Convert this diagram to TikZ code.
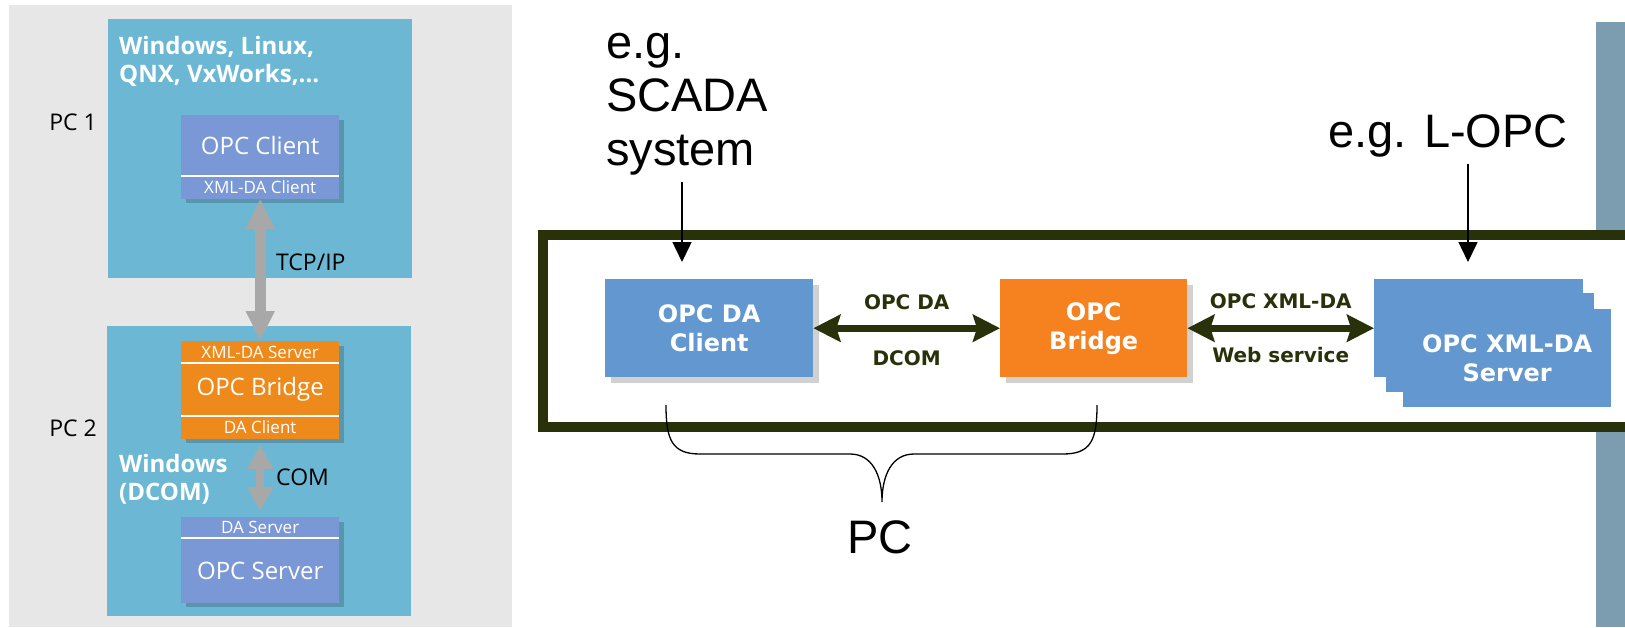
\documentclass[tikz,border=0pt]{standalone}
\usepackage{fontspec}
\setmainfont{Liberation Sans}
\newfontfamily\osans{Open Sans}
\newfontfamily\verd{DejaVu Sans}
\usetikzlibrary{arrows.meta}
\definecolor{panelgray}{HTML}{E7E7E7}
\definecolor{pcblue}{HTML}{6CB8D4}
\definecolor{lav}{HTML}{7B98D6}
\definecolor{lorange}{HTML}{EE8A1C}
\definecolor{grayarrow}{HTML}{A8A8A8}
\definecolor{boxblue}{HTML}{6298CF}
\definecolor{borange}{HTML}{F5821F}
\definecolor{olive}{HTML}{283109}
\definecolor{sidebar}{HTML}{7B9DAF}

\begin{document}
\begin{tikzpicture}[x=1pt,y=-1pt,
    pc box/.style={fill=pcblue,anchor=north west,minimum width=304pt,inner sep=0},
    layer/.style={anchor=north west,minimum width=158pt,inner sep=0,text=white,
                  font=\osans\fontsize{17pt}{17pt}\selectfont},
    big layer/.style={layer,font=\osans\fontsize{24pt}{24pt}\selectfont},
    divider/.style={white,line width=2pt},
    shadowbox/.style={fill=black,opacity=0.18},
    gray link/.style={draw=grayarrow,line width=11pt,<->,>={Triangle[length=30pt,width=27pt]}},
    com link/.style={draw=grayarrow,line width=8pt,<->,>={Triangle[length=24pt,width=25pt]}},
    side label/.style={font=\osans\fontsize{23pt}{23pt}\selectfont,inner sep=0},
    os label/.style={font=\osans\bfseries\fontsize{24pt}{28pt}\selectfont,text=white,
                     align=left,anchor=north west,inner sep=0},
    main box/.style={text=white,align=center,inner sep=0,anchor=north west,
                     font=\verd\bfseries\fontsize{24pt}{29pt}\selectfont},
    link/.style={draw=olive,line width=7pt,<->,>={Stealth[length=27pt,width=27pt,inset=4pt]}},
    link label/.style={font=\verd\bfseries\fontsize{20pt}{20pt}\selectfont,text=olive,inner sep=0},
    note/.style={font=\fontsize{47pt}{53.5pt}\selectfont,inner sep=0},
    pointer/.style={line width=1.5pt,-{Triangle[length=20pt,width=19pt]}}]

  \useasboundingbox (0,0) rectangle (1625,627);

  % left picture: two PCs
  \fill[panelgray] (9,5) rectangle (512,627);
  \node[pc box,minimum height=259pt] (pc1) at (108,19) {};
  \node[pc box,minimum height=290pt] (pc2) at (107,326) {};
  \node[os label] (os1) at (119,36) {Windows, Linux,\\QNX, VxWorks,...};
  \node[os label] (os2) at (119,454) {Windows\\(DCOM)};
  \node[side label] (pc1lbl) at (73,122) {PC 1};
  \node[side label] (pc2lbl) at (73,428) {PC 2};

  % OPC client
  \fill[shadowbox] (186,120) rectangle (344,203);
  \node[big layer,fill=lav,minimum height=61pt] (cli) at (181,115) {OPC Client};
  \node[layer,fill=lav,minimum height=22pt] (clixml) at (cli.south west) {XML-DA Client};
  \draw[divider] (cli.south west) -- (cli.south east);

  % OPC bridge
  \fill[shadowbox] (186,346) rectangle (344,443);
  \node[layer,fill=lorange,minimum height=22pt] (brxml) at (181,341) {XML-DA Server};
  \node[big layer,fill=lorange,minimum height=52pt] (br) at (brxml.south west) {OPC Bridge};
  \node[layer,fill=lorange,minimum height=23pt] (brda) at (br.south west) {DA Client};
  \draw[divider] (br.north west) -- (br.north east);
  \draw[divider] (br.south west) -- (br.south east);

  % OPC server
  \fill[shadowbox] (186,522) rectangle (344,607);
  \node[layer,fill=lav,minimum height=21pt] (srvda) at (181,517) {DA Server};
  \node[big layer,fill=lav,minimum height=64pt] (srv) at (srvda.south west) {OPC Server};
  \draw[divider] (srv.north west) -- (srv.north east);

  \path[gray link] (clixml.south) -- (brxml.north);
  \path[com link,shorten <=6pt,shorten >=6pt] (brda.south) -- (srvda.north);
  \node[side label,anchor=west] (tcp) at (276,262) {TCP/IP};
  \node[side label,anchor=west] (com) at (276,477) {COM};

  % right picture: bridge setup
  \fill[sidebar] (1596,22) rectangle (1625,627);
  \fill[white] (548,240) rectangle (1625,422);
  \draw[olive,line width=9.5pt] (1625,235) -- (543,235) -- (543,427) -- (1625,427);

  \fill[shadowbox] (611,285) rectangle (819,383);
  \node[main box,fill=boxblue,minimum width=208pt,minimum height=98pt] (dacli) at (605,279) {OPC DA\\Client};
  \fill[shadowbox] (1006,285) rectangle (1193,383);
  \node[main box,fill=borange,minimum width=187pt,minimum height=98pt] (bridge) at (1000,279) {OPC\\Bridge};
  \node[main box,fill=boxblue,minimum width=209pt,minimum height=98pt] (srv1) at (1374,279) {};
  \node[main box,fill=boxblue,minimum width=208pt,minimum height=99pt] (srv2) at (1386,293) {};
  \node[main box,fill=boxblue,minimum width=208pt,minimum height=98pt] (srv3) at (1403,309) {OPC XML-DA\\Server};

  \path[link] (dacli) -- node[link label,above=15pt] {OPC DA} node[link label,below=19pt] {DCOM} (bridge);
  \path[link] (bridge) -- node[link label,above=16pt] {OPC XML-DA} node[link label,below=16pt] {Web service} (srv1);

  \node[note,anchor=base west,align=left] (scada) at (606,165) {e.g.\\SCADA\\system};
  \node[note,anchor=base west] (lopc) at (1328,147) {e.g. L-OPC};
  \coordinate (in1) at (682,262);
  \coordinate (in2) at (1468,262);
  \draw[pointer,shorten <=7pt] (scada.south -| in1) -- (in1);
  \draw[pointer,shorten <=7pt] (lopc.south -| in2) -- (in2);

  \node[note] (pc) at (880,537) {PC};
  \draw[line width=1.3pt] (666,405) .. controls (666,440) and (672,454) .. (700,454) -- (850,454)
    .. controls (872,454) and (882,475) .. (882,502)
    .. controls (882,475) and (892,454) .. (914,454) -- (1063,454)
    .. controls (1091,454) and (1097,440) .. (1097,405);
\end{tikzpicture}
\end{document}
